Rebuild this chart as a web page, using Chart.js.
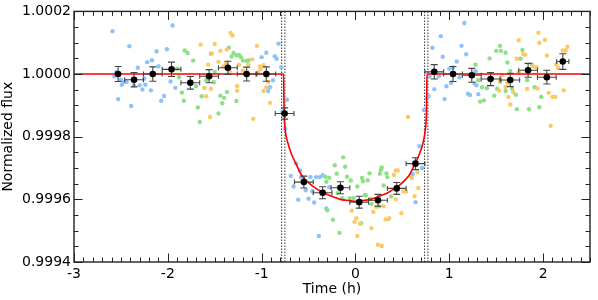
<!DOCTYPE html>
<html>
<head>
<meta charset="utf-8">
<script src="https://cdn.jsdelivr.net/npm/chart.js@4.4.1/dist/chart.umd.min.js"></script>
<style>
  html, body { margin: 0; padding: 0; background: #fff; }
</style>
</head>
<body>
<canvas id="lc" width="598" height="300"></canvas>
<script>
// axis ranges and labelled ticks
const X_MIN = -3, X_MAX = 2.5;
const Y_MIN = 0.9994, Y_MAX = 1.0002;
const xTicks = [-3, -2, -1, 0, 1, 2];
const yTicks = [0.9994, 0.9996, 0.9998, 1.0000, 1.0002];

// contact times (dotted verticals)
const contactTimes = [-0.787, -0.752, 0.737, 0.772];

// unbinned photometry, one pair of arrays per visit
const blueTime = [-2.59, -2.57, -2.55, -2.53, -2.50, -2.49, -2.47, -2.44, -2.41, -2.39, -2.36, -2.32, -2.30, -2.27, -2.25, -2.24, -2.22, -2.18, -2.17, -2.12, -2.10, -2.07, -2.04, -2.01, -1.97, -1.95, -1.92,
  -1.00, -0.95, -0.93, -0.91, -0.88, -0.86, -0.84, -0.82, -0.79, -0.78, -0.75, -0.73,
  -0.69, -0.66, -0.63, -0.61, -0.59, -0.58, -0.53, -0.50, -0.48, -0.46, -0.44, -0.42, -0.39, -0.38, -0.35, -0.31, -0.28,
  0.61, 0.64, 0.68, 0.71, 0.73, 0.76,
  0.78, 0.79, 0.82, 0.84, 0.89, 0.91, 0.93, 0.95, 0.97, 1.00, 1.02, 1.04, 1.08, 1.11, 1.13, 1.16, 1.18, 1.20, 1.22, 1.27, 1.28, 1.29, 1.31];
const blueFlux = [1.000137, 0.999993, 1.000006, 0.999920, 0.999982, 0.999966, 0.999975, 0.999975, 1.000089, 0.999898, 0.999964, 1.000020, 0.999964, 0.999951, 0.999986, 0.999966, 1.000038, 0.999948, 1.000044, 1.000073, 1.000025, 0.999915, 0.999930, 1.000079, 0.999976, 1.000155, 0.999956,
  1.000054, 1.000068, 0.999946, 0.999958, 0.999980, 1.000057, 1.000049, 1.000097, 1.000022, 0.999880, 0.999826, 0.999918,
  0.999675, 0.999641, 0.999714, 0.999599, 0.999692, 0.999670, 0.999629, 0.999602, 0.999671, 0.999626, 0.999590, 0.999671, 0.999483, 0.999671, 0.999677, 0.999571, 0.999639,
  0.999680, 0.999591, 0.999770, 0.999700, 0.999885, 0.999922,
  0.999930, 0.999993, 1.000084, 0.999952, 0.999993, 1.000121, 1.000055, 0.999920, 0.999961, 1.000017, 0.999972, 1.000021, 1.000040, 0.999990, 1.000090, 1.000163, 1.000063, 0.999937, 0.999933, 0.999970, 1.000009, 0.999964, 0.999936];

const greenTime = [-1.90, -1.88, -1.85, -1.83, -1.82, -1.79, -1.73, -1.70, -1.68, -1.66, -1.64, -1.61, -1.59, -1.54, -1.51, -1.50, -1.46, -1.44, -1.42, -1.40, -1.37, -1.35, -1.32, -1.30, -1.27, -1.27, -1.24, -1.22, -1.20, -1.16, -1.14,
  -0.32, -0.31, -0.30, -0.28, -0.24, -0.22, -0.20, -0.19, -0.17, -0.14, -0.13, -0.11, -0.09, -0.06, -0.05, -0.02, 0.02, 0.06, 0.07, 0.08, 0.10, 0.11, 0.13, 0.15, 0.16, 0.17, 0.25, 0.26, 0.27, 0.28, 0.30, 0.33, 0.34, 0.35, 0.38,
  1.28, 1.31, 1.33, 1.35, 1.37, 1.40, 1.43, 1.45, 1.48, 1.50, 1.51, 1.54, 1.55, 1.60, 1.60, 1.62, 1.65, 1.67, 1.71, 1.72, 1.76, 1.78, 1.83, 1.85, 1.88, 1.91, 1.96, 1.98];
const greenFlux = [1.000017, 0.999990, 0.999941, 0.999915, 1.000075, 1.000067, 1.000043, 0.999961, 0.999893, 0.999847, 0.999929, 0.999956, 0.999980, 1.000065, 0.999974, 1.000007, 0.999874, 0.999931, 0.999907, 0.999924, 0.999943, 1.000084, 1.000056, 1.000067, 0.999914, 1.000060, 1.000061, 1.000054, 1.000043, 1.000042, 1.000044,
  0.999672, 0.999656, 0.999565, 0.999669, 0.999535, 0.999709, 0.999682, 0.999620, 0.999493, 0.999604, 0.999734, 0.999704, 0.999672, 0.999604, 0.999660, 0.999604, 0.999641, 0.999524, 0.999668, 0.999658, 0.999614, 0.999613, 0.999661, 0.999683, 0.999601, 0.999585, 0.999578, 0.999682, 0.999694, 0.999702, 0.999644, 0.999683, 0.999671, 0.999537, 0.999609,
  1.000030, 0.999980, 0.999912, 0.999958, 0.999916, 0.999955, 1.000050, 0.999987, 0.999931, 1.000074, 0.999953, 1.000090, 1.000074, 1.000068, 0.999946, 1.000037, 1.000010, 0.999953, 0.999934, 0.999888, 1.000049, 1.000077, 0.999980, 0.999888, 1.000031, 0.999958, 0.999894, 0.999927];

const orangeTime = [-1.65, -1.61, -1.59, -1.58, -1.57, -1.55, -1.54, -1.53, -1.50, -1.46, -1.44, -1.41, -1.38, -1.37, -1.34, -1.33, -1.31, -1.26, -1.26, -1.24, -1.20, -1.14, -1.10, -1.09, -1.05, -1.04, -1.02, -1.01, -0.98, -0.98, -0.95, -0.93, -0.91,
  -0.04, -0.01, 0.01, 0.02, 0.05, 0.17, 0.19, 0.22, 0.24, 0.28, 0.30, 0.32, 0.36, 0.41, 0.43, 0.43, 0.45, 0.49, 0.51, 0.54, 0.56, 0.60, 0.63, 0.66, 0.67,
  1.53, 1.54, 1.56, 1.60, 1.62, 1.63, 1.65, 1.68, 1.72, 1.74, 1.74, 1.79, 1.81, 1.83, 1.89, 1.93, 1.94, 1.95, 1.96, 2.02, 2.04, 2.06, 2.08, 2.10, 2.13, 2.14, 2.16, 2.21, 2.22, 2.24, 2.26];
const orangeFlux = [1.000094, 0.999956, 0.999929, 0.999994, 1.000030, 0.999863, 0.999953, 1.000066, 1.000096, 1.000039, 1.000074, 1.000024, 1.000033, 1.000078, 1.000010, 1.000131, 1.000123, 0.999962, 0.999947, 1.000030, 1.000011, 1.000030, 1.000047, 0.999857, 1.000090, 1.000006, 1.000024, 1.000017, 1.000028, 0.999946, 0.999957, 0.999975, 0.999908,
  0.999564, 0.999528, 0.999540, 0.999483, 0.999522, 0.999508, 0.999560, 0.999576, 0.999455, 0.999451, 0.999578, 0.999536, 0.999540, 0.999678, 0.999692, 0.999600, 0.999692, 0.999556, 0.999625, 0.999625, 0.999863, 0.999668, 0.999610, 0.999686, 0.999636,
  0.999947, 0.999975, 0.999996, 0.999959, 0.999972, 0.999927, 0.999903, 0.999943, 1.000049, 1.000108, 1.000006, 1.000063, 1.000062, 0.999953, 1.000024, 1.000022, 0.999954, 1.000132, 1.000100, 1.000109, 1.000059, 0.999940, 0.999835, 0.999927, 0.999927, 1.000031, 1.000019, 1.000075, 0.999948, 1.000075, 1.000087];

// binned points with errors
const binTime = [-2.53, -2.36, -2.16, -1.96, -1.76, -1.56, -1.36, -1.16, -0.95, -0.755, -0.55, -0.35, -0.16, 0.04, 0.24, 0.44, 0.64, 0.84, 1.04, 1.24, 1.44, 1.65, 1.84, 2.04, 2.21];
const binFlux = [1.000000, 0.999982, 1.000000, 1.000015, 0.999972, 0.999993, 1.000020, 1.000000, 1.000000, 0.999874, 0.999655, 0.999621, 0.999637, 0.999591, 0.999597, 0.999635, 0.999714, 1.000007, 1.000000, 0.999996, 0.999984, 0.999981, 1.000012, 0.999990, 1.000040];
const binTimeErr = [0.0, 0.1, 0.1, 0.1, 0.1, 0.1, 0.1, 0.1, 0.1, 0.1, 0.1, 0.1, 0.1, 0.1, 0.1, 0.1, 0.1, 0.1, 0.1, 0.1, 0.1, 0.1, 0.1, 0.1, 0.065];
const binFluxErr = [0.000024, 0.000023, 0.000023, 0.000023, 0.000020, 0.000021, 0.000021, 0.000022, 0.000023, 0.000018, 0.000019, 0.000019, 0.000019, 0.000019, 0.000019, 0.000019, 0.000019, 0.000023, 0.000024, 0.000022, 0.000021, 0.000021, 0.000022, 0.000022, 0.000025];

// transit model (red curve)
const modelTime = [-3.0, -0.766, -0.763, -0.760, -0.755, -0.748, -0.738, -0.72, -0.70, -0.67, -0.63, -0.58, -0.52, -0.46, -0.40, -0.34, -0.28, -0.22, -0.16, -0.10, -0.04, 0.0,
  0.04, 0.10, 0.16, 0.22, 0.28, 0.34, 0.40, 0.46, 0.52, 0.58, 0.63, 0.67, 0.70, 0.72, 0.734, 0.744, 0.751, 0.756, 0.759, 0.762, 2.5];
const modelFlux = [1.0, 1.0, 0.99992, 0.99987, 0.99984, 0.99982, 0.99980, 0.99978, 0.99976, 0.999736, 0.999711, 0.999680, 0.999659, 0.999643, 0.999631, 0.999620, 0.999613, 0.999606, 0.999600, 0.999597, 0.999595, 0.999594,
  0.999595, 0.999597, 0.999600, 0.999606, 0.999613, 0.999620, 0.999631, 0.999643, 0.999659, 0.999680, 0.999711, 0.999736, 0.99976, 0.99978, 0.99980, 0.99982, 0.99984, 0.99987, 0.99992, 1.0, 1.0];

const pts = (xs, ys) => xs.map((t, i) => ({ x: t, y: ys[i] }));

Chart.defaults.font.family = "'DejaVu Sans', sans-serif";
Chart.defaults.font.size = 14;
Chart.defaults.color = '#000';

// error bars drawn just before the binned points
const errorBars = {
    id: 'errorBars',
    beforeDatasetDraw(chart, args) {
        if (chart.data.datasets[args.index].label !== 'binned') return;
        const { ctx, scales: { x, y } } = chart;
        ctx.save();
        ctx.strokeStyle = '#444';
        ctx.lineWidth = 1.1;
        ctx.beginPath();
        binTime.forEach((t, i) => {
            const px = x.getPixelForValue(t);
            const py = y.getPixelForValue(binFlux[i]);
            const y0 = y.getPixelForValue(binFlux[i] - binFluxErr[i]);
            const y1 = y.getPixelForValue(binFlux[i] + binFluxErr[i]);
            ctx.moveTo(px, y0); ctx.lineTo(px, y1);
            ctx.moveTo(px - 3.5, y0); ctx.lineTo(px + 3.5, y0);
            ctx.moveTo(px - 3.5, y1); ctx.lineTo(px + 3.5, y1);
            if (binTimeErr[i] > 0) {
                const x0 = x.getPixelForValue(t - binTimeErr[i]);
                const x1 = x.getPixelForValue(t + binTimeErr[i]);
                ctx.moveTo(x0, py); ctx.lineTo(x1, py);
                ctx.moveTo(x0, py - 2.5); ctx.lineTo(x0, py + 2.5);
                ctx.moveTo(x1, py - 2.5); ctx.lineTo(x1, py + 2.5);
            }
        });
        ctx.stroke();
        ctx.restore();
    }
};

// box frame with inward major/minor ticks on all four sides
const frameTicks = {
    id: 'frameTicks',
    afterDraw(chart) {
        const { ctx, chartArea: a, scales: { x, y } } = chart;
        ctx.save();
        ctx.strokeStyle = '#222';
        ctx.lineWidth = 1;
        ctx.beginPath();
        for (let i = 0; i <= 55; i++) {
            const v = X_MIN + i * 0.1;
            const len = i % 10 === 0 ? 8.5 : 4.5;
            const px = Math.round(x.getPixelForValue(v)) + 0.5;
            ctx.moveTo(px, a.bottom); ctx.lineTo(px, a.bottom - len);
            ctx.moveTo(px, a.top); ctx.lineTo(px, a.top + len);
        }
        for (let i = 0; i <= 16; i++) {
            const v = Y_MIN + i * 0.00005;
            const len = i % 4 === 0 ? 8.5 : 4.5;
            const py = Math.round(y.getPixelForValue(v)) + 0.5;
            ctx.moveTo(a.left, py); ctx.lineTo(a.left + len, py);
            ctx.moveTo(a.right, py); ctx.lineTo(a.right - len, py);
        }
        ctx.stroke();
        ctx.lineWidth = 1.4;
        ctx.strokeRect(a.left, a.top, a.right - a.left, a.bottom - a.top);
        ctx.restore();
    }
};

const vlines = contactTimes.map(t => ({
    type: 'line',
    label: 'contact',
    data: [{ x: t, y: Y_MIN }, { x: t, y: Y_MAX }],
    borderColor: '#333',
    borderWidth: 1,
    borderDash: [1.5, 1.5],
    pointRadius: 0,
    order: 6
}));

new Chart(document.getElementById('lc'), {
    type: 'scatter',
    data: {
        datasets: [
            {
                label: 'binned',
                data: pts(binTime, binFlux),
                backgroundColor: '#000',
                borderWidth: 0,
                pointRadius: 3.3,
                order: 0
            },
            {
                type: 'line',
                label: 'model',
                data: pts(modelTime, modelFlux),
                borderColor: '#ff0000',
                borderWidth: 1.6,
                pointRadius: 0,
                cubicInterpolationMode: 'monotone',
                order: 1
            },
            {
                label: 'visit 3',
                data: pts(orangeTime, orangeFlux),
                backgroundColor: '#ffc866',
                borderWidth: 0,
                pointRadius: 2.2,
                order: 2
            },
            {
                label: 'visit 2',
                data: pts(greenTime, greenFlux),
                backgroundColor: '#8ee087',
                borderWidth: 0,
                pointRadius: 2.2,
                order: 3
            },
            {
                label: 'visit 1',
                data: pts(blueTime, blueFlux),
                backgroundColor: '#8dc3fa',
                borderWidth: 0,
                pointRadius: 2.2,
                order: 4
            },
            ...vlines
        ]
    },
    options: {
        responsive: false,
        animation: false,
        layout: { padding: { left: 0, right: 8, top: 10, bottom: 0 } },
        plugins: {
            legend: { display: false },
            tooltip: { enabled: false }
        },
        scales: {
            x: {
                type: 'linear',
                min: X_MIN,
                max: X_MAX,
                grid: { display: false, drawTicks: false },
                border: { display: false },
                afterBuildTicks: s => { s.ticks = xTicks.map(v => ({ value: v })); },
                afterFit: s => { s.height = 38; },
                ticks: {
                    padding: 4,
                    maxRotation: 0,
                    callback: v => String(v)
                },
                title: {
                    display: true,
                    text: 'Time (h)',
                    padding: { top: 0, bottom: 2.6 }
                }
            },
            y: {
                type: 'linear',
                min: Y_MIN,
                max: Y_MAX,
                grid: { display: false, drawTicks: false },
                border: { display: false },
                afterBuildTicks: s => { s.ticks = yTicks.map(v => ({ value: v })); },
                afterFit: s => { s.width = 74; },
                ticks: {
                    padding: 3,
                    callback: v => v.toFixed(4)
                },
                title: {
                    display: true,
                    text: 'Normalized flux',
                    padding: { top: 0, bottom: 0 }
                }
            }
        }
    },
    plugins: [errorBars, frameTicks]
});
</script>
</body>
</html>
